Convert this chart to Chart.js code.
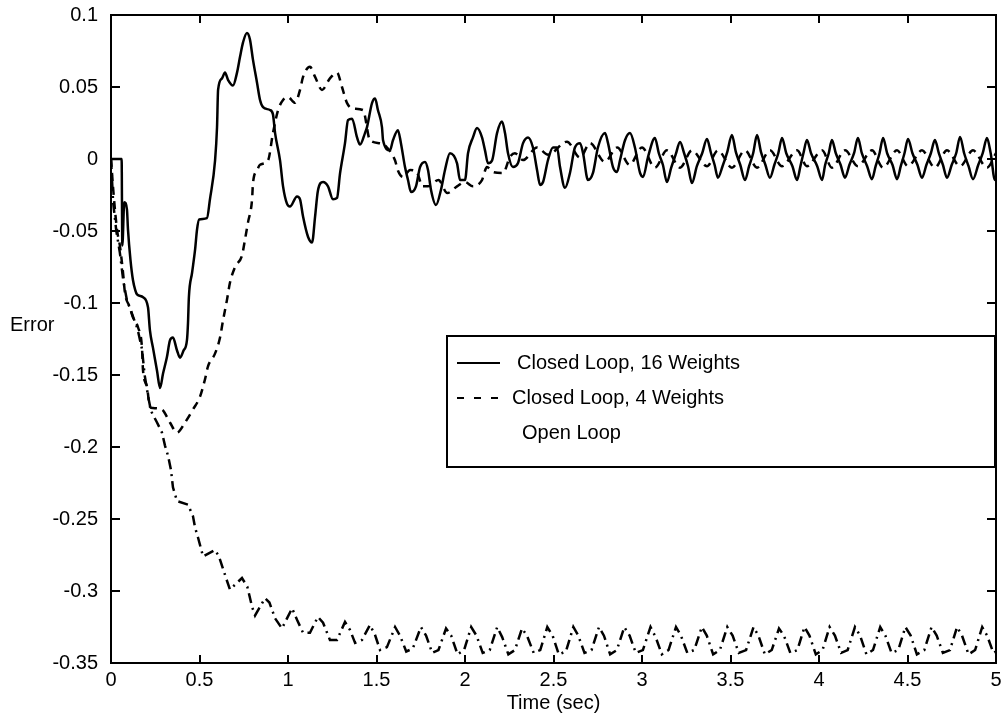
<!DOCTYPE html>
<html>
<head>
<meta charset="utf-8">
<script src="https://cdn.jsdelivr.net/npm/chart.js@4.4.1/dist/chart.umd.min.js"></script>
<style>
  html, body { margin: 0; padding: 0; background: #fff; }
  #wrap { width: 1006px; height: 723px; }
</style>
</head>
<body>
<div id="wrap"><canvas id="myChart" width="1006" height="723"></canvas></div>
<script>
// Closed Loop, 16 Weights (solid)
var t16 = [0, 0.06, 0.064, 0.075, 0.09, 0.096, 0.11, 0.124, 0.137, 0.147, 0.181, 0.209, 0.220, 0.237, 0.260, 0.277, 0.294, 0.316, 0.333, 0.350, 0.373, 0.390, 0.410, 0.429, 0.435, 0.440, 0.458, 0.475, 0.486, 0.498, 0.542, 0.559, 0.588, 0.599, 0.605, 0.627, 0.644, 0.661, 0.689, 0.712, 0.729, 0.746, 0.768, 0.785, 0.802, 0.825, 0.842, 0.859, 0.898, 0.915, 0.927, 0.955, 0.972, 0.994, 1.011, 1.051, 1.068, 1.085, 1.113, 1.136, 1.153, 1.169, 1.198, 1.226, 1.254, 1.277, 1.294, 1.322, 1.339, 1.362, 1.390, 1.407, 1.435, 1.446, 1.475, 1.492, 1.508, 1.531, 1.537, 1.576, 1.593, 1.621, 1.638, 1.661, 1.678, 1.695, 1.723, 1.746, 1.774, 1.791, 1.808, 1.836, 1.864, 1.887, 1.915, 1.955, 1.972, 2.0, 2.017, 2.045, 2.068, 2.096, 2.113, 2.130, 2.153, 2.181, 2.209, 2.226, 2.243, 2.271, 2.299, 2.328, 2.356, 2.384, 2.407, 2.424, 2.441, 2.469, 2.497, 2.520, 2.537, 2.565, 2.593, 2.621, 2.650, 2.667, 2.695, 2.723, 2.751, 2.791, 2.808, 2.836, 2.859, 2.876, 2.904, 2.932, 2.96, 2.989, 3.006, 3.034, 3.073, 3.095, 3.118, 3.141, 3.165, 3.190, 3.215, 3.238, 3.260, 3.282, 3.310, 3.340, 3.367, 3.390, 3.410, 3.429, 3.455, 3.482, 3.508, 3.530, 3.555, 3.582, 3.605, 3.628, 3.650, 3.672, 3.697, 3.723, 3.748, 3.770, 3.791, 3.815, 3.850, 3.876, 3.895, 3.912, 3.932, 3.955, 3.990, 4.017, 4.035, 4.055, 4.073, 4.095, 4.122, 4.147, 4.172, 4.198, 4.220, 4.242, 4.272, 4.299, 4.320, 4.342, 4.362, 4.385, 4.415, 4.441, 4.462, 4.483, 4.503, 4.528, 4.556, 4.582, 4.607, 4.632, 4.655, 4.677, 4.700, 4.723, 4.750, 4.775, 4.797, 4.820, 4.845, 4.870, 4.900, 4.925, 4.949, 4.970, 4.994, 5.0];
var e16 = [0, 0, -0.06, -0.03, -0.035, -0.049, -0.07, -0.084, -0.091, -0.094, -0.096, -0.103, -0.119, -0.131, -0.147, -0.159, -0.149, -0.1375, -0.126, -0.124, -0.133, -0.138, -0.133, -0.126, -0.114, -0.096, -0.079, -0.063, -0.049, -0.042, -0.041, -0.028, -0.001, 0.022, 0.048, 0.056, 0.060, 0.055, 0.051, 0.060, 0.071, 0.081, 0.0875, 0.083, 0.069, 0.053, 0.041, 0.036, 0.034, 0.031, 0.018, -0.001, -0.019, -0.031, -0.033, -0.026, -0.028, -0.040, -0.054, -0.058, -0.040, -0.022, -0.016, -0.019, -0.028, -0.027, -0.010, 0.011, 0.027, 0.028, 0.015, 0.010, 0.018, 0.022, 0.039, 0.042, 0.034, 0.022, 0.013, 0.006, 0.013, 0.020, 0.011, -0.0056, -0.0146, -0.023, -0.019, -0.0056, -0.002, -0.0076, -0.0215, -0.032, -0.0215, -0.0076, 0.004, -0.003, -0.0146, -0.0146, 0.004, 0.015, 0.0215, 0.015, 0.006, -0.003, -0.001, 0.018, 0.026, 0.018, 0.004, -0.0056, -0.003, 0.011, 0.015, 0.008, -0.0076, -0.018, -0.016, -0.0007, 0.008, 0.008, -0.0056, -0.020, -0.0097, 0.008, 0.011, 0.004, -0.0146, -0.0097, 0.008, 0.018, 0.011, -0.0056, -0.009, -0.0007, 0.013, 0.018, 0.008, -0.0097, -0.0125, 0.0014, 0.0146, 0.004, -0.004, -0.016, -0.006, 0.003, 0.0118, 0.004, -0.005, -0.0167, -0.005, 0.004, 0.0139, 0.004, -0.004, -0.013, -0.005, 0.005, 0.0167, 0.005, -0.004, -0.0146, -0.005, 0.004, 0.0167, 0.005, -0.004, -0.013, -0.004, 0.004, 0.0146, 0.004, -0.005, -0.0146, -0.005, 0.004, 0.0132, 0.004, -0.005, -0.0146, -0.004, 0.004, 0.0132, 0.004, -0.004, -0.013, -0.004, 0.004, 0.0146, 0.004, -0.005, -0.014, -0.005, 0.004, 0.0146, 0.004, -0.004, -0.014, -0.005, 0.004, 0.0139, 0.004, -0.004, -0.013, -0.004, 0.004, 0.0132, 0.004, -0.004, -0.013, -0.004, 0.004, 0.0153, 0.004, -0.005, -0.014, -0.004, 0.004, 0.0146, 0.004, -0.0146, -0.012];

// Closed Loop, 4 Weights (dashed)
var t4 = [0, 0.015, 0.035, 0.050, 0.068, 0.079, 0.107, 0.124, 0.153, 0.175, 0.181, 0.203, 0.220, 0.237, 0.288, 0.333, 0.373, 0.418, 0.463, 0.503, 0.531, 0.548, 0.588, 0.616, 0.633, 0.655, 0.672, 0.701, 0.740, 0.757, 0.774, 0.797, 0.802, 0.825, 0.842, 0.887, 0.915, 0.944, 0.972, 1.000, 1.040, 1.068, 1.085, 1.124, 1.153, 1.192, 1.237, 1.277, 1.305, 1.333, 1.367, 1.424, 1.463, 1.520, 1.559, 1.605, 1.621, 1.65, 1.69, 1.73, 1.76, 1.79, 1.85, 1.90, 1.955, 2.0, 2.045, 2.096, 2.124, 2.158, 2.215, 2.254, 2.282, 2.328, 2.407, 2.47, 2.576, 2.65, 2.706, 2.79, 2.86, 2.93, 3.0, 3.073, 3.141, 3.215, 3.282, 3.367, 3.429, 3.508, 3.582, 3.650, 3.723, 3.791, 3.876, 3.932, 4.017, 4.073, 4.147, 4.220, 4.299, 4.362, 4.441, 4.503, 4.582, 4.655, 4.723, 4.797, 4.870, 4.949, 5.0];
var e4 = [0, -0.025, -0.05, -0.06, -0.079, -0.093, -0.103, -0.110, -0.117, -0.131, -0.147, -0.158, -0.172, -0.173, -0.174, -0.183, -0.190, -0.183, -0.174, -0.165, -0.153, -0.144, -0.135, -0.124, -0.112, -0.098, -0.086, -0.075, -0.067, -0.056, -0.044, -0.028, -0.017, -0.008, -0.004, -0.001, 0.018, 0.034, 0.041, 0.043, 0.039, 0.048, 0.057, 0.064, 0.057, 0.048, 0.056, 0.060, 0.050, 0.039, 0.035, 0.034, 0.013, 0.011, 0.008, -0.001, -0.008, -0.0125, -0.0076, -0.0097, -0.019, -0.019, -0.0146, -0.0236, -0.019, -0.016, -0.019, -0.0146, -0.0056, -0.009, -0.0097, 0.0014, 0.004, -0.0007, 0.008, 0.003, 0.012, 0.001, 0.011, -0.002, 0.008, -0.004, 0.008, -0.006, 0.006, -0.006, 0.006, -0.005, 0.006, -0.006, 0.006, -0.006, 0.006, -0.005, 0.006, -0.005, 0.006, -0.006, 0.006, -0.005, 0.006, -0.006, 0.006, -0.005, 0.006, -0.006, 0.006, -0.005, 0.006, -0.006, 0.004];

// Open Loop (dash-dot)
var tOpen = [0, 0.012, 0.03, 0.05, 0.07, 0.09, 0.12, 0.15, 0.175, 0.19, 0.21, 0.226, 0.26, 0.288, 0.305, 0.322, 0.339, 0.350, 0.373, 0.435, 0.463, 0.475, 0.492, 0.520, 0.588, 0.610, 0.650, 0.672, 0.740, 0.77, 0.797, 0.814, 0.870, 0.895, 0.927, 0.966, 1.023, 1.051, 1.085, 1.124, 1.169, 1.198, 1.237, 1.277, 1.322, 1.350, 1.379, 1.418, 1.463, 1.492, 1.520, 1.559, 1.605, 1.633, 1.668, 1.705, 1.751, 1.780, 1.815, 1.850, 1.893, 1.922, 1.958, 1.995, 2.035, 2.065, 2.100, 2.140, 2.182, 2.210, 2.245, 2.282, 2.322, 2.350, 2.388, 2.425, 2.465, 2.495, 2.530, 2.570, 2.612, 2.640, 2.675, 2.715, 2.757, 2.785, 2.820, 2.858, 2.900, 2.930, 2.965, 3.005, 3.048, 3.077, 3.112, 3.150, 3.192, 3.220, 3.256, 3.295, 3.338, 3.366, 3.402, 3.440, 3.482, 3.512, 3.547, 3.588, 3.630, 3.658, 3.694, 3.733, 3.774, 3.802, 3.838, 3.878, 3.918, 3.946, 3.982, 4.020, 4.060, 4.090, 4.125, 4.162, 4.203, 4.232, 4.268, 4.305, 4.346, 4.375, 4.410, 4.448, 4.488, 4.518, 4.553, 4.595, 4.636, 4.665, 4.700, 4.740, 4.780, 4.808, 4.845, 4.882, 4.922, 4.950, 4.985, 5.0];
var eOpen = [0, -0.03, -0.05, -0.065, -0.085, -0.098, -0.108, -0.118, -0.132, -0.150, -0.165, -0.175, -0.183, -0.190, -0.199, -0.206, -0.216, -0.228, -0.2375, -0.240, -0.248, -0.256, -0.263, -0.276, -0.2715, -0.276, -0.291, -0.299, -0.291, -0.297, -0.311, -0.317, -0.305, -0.308, -0.319, -0.326, -0.312, -0.320, -0.329, -0.329, -0.318, -0.322, -0.334, -0.334, -0.3215, -0.327, -0.336, -0.334, -0.3236, -0.3306, -0.341, -0.339, -0.325, -0.331, -0.342, -0.340, -0.325, -0.331, -0.343, -0.341, -0.326, -0.331, -0.344, -0.341, -0.325, -0.331, -0.343, -0.341, -0.325, -0.332, -0.344, -0.341, -0.326, -0.331, -0.343, -0.341, -0.325, -0.331, -0.344, -0.342, -0.325, -0.331, -0.343, -0.341, -0.325, -0.331, -0.344, -0.341, -0.325, -0.331, -0.343, -0.341, -0.325, -0.332, -0.344, -0.341, -0.325, -0.331, -0.343, -0.341, -0.325, -0.331, -0.344, -0.341, -0.325, -0.331, -0.343, -0.341, -0.325, -0.331, -0.344, -0.341, -0.326, -0.331, -0.343, -0.341, -0.325, -0.331, -0.344, -0.341, -0.325, -0.331, -0.343, -0.341, -0.325, -0.331, -0.344, -0.341, -0.325, -0.331, -0.343, -0.341, -0.325, -0.331, -0.344, -0.341, -0.325, -0.331, -0.343, -0.341, -0.325, -0.331, -0.344, -0.341, -0.325, -0.331, -0.343, -0.342];

var seriesNames = ['Closed Loop, 16 Weights', 'Closed Loop, 4 Weights', 'Open Loop'];
var xTicks = [0, 0.5, 1, 1.5, 2, 2.5, 3, 3.5, 4, 4.5, 5];
var yTicks = [-0.35, -0.3, -0.25, -0.2, -0.15, -0.1, -0.05, 0, 0.05, 0.1];

function pts(ts, es) {
  var out = [];
  for (let i = 0; i < ts.length; i++) out.push({x: ts[i], y: es[i]});
  return out;
}

var FONT = "'Liberation Sans', Arial, sans-serif";

// box + inward ticks on all four sides, legend, y label
const framePlugin = {
  id: 'frame',
  afterDatasetsDraw(chart) {
    const ctx = chart.ctx;
    const a = chart.chartArea;
    const xs = chart.scales.x, ys = chart.scales.y;
    ctx.save();
    ctx.strokeStyle = '#000';
    ctx.lineWidth = 2;
    ctx.setLineDash([]);
    ctx.strokeRect(a.left, a.top, a.right - a.left, a.bottom - a.top);
    ctx.beginPath();
    xTicks.forEach(function(v){
      const px = Math.round(xs.getPixelForValue(v));
      ctx.moveTo(px, a.bottom); ctx.lineTo(px, a.bottom - 8);
      ctx.moveTo(px, a.top); ctx.lineTo(px, a.top + 8);
    });
    yTicks.forEach(function(v){
      const py = Math.round(ys.getPixelForValue(v));
      ctx.moveTo(a.left, py); ctx.lineTo(a.left + 9, py);
      ctx.moveTo(a.right, py); ctx.lineTo(a.right - 9, py);
    });
    ctx.stroke();

    // legend
    const L = a.left + 336, T = a.top + 321, R = a.right - 1, B = a.top + 452;
    ctx.fillStyle = '#fff';
    ctx.fillRect(L, T, R - L, B - T);
    ctx.lineWidth = 2;
    ctx.strokeRect(L, T, R - L, B - T);
    const rows = [T + 27, T + 62, T + 97];
    const textX = [L + 70, L + 65, L + 75];
    ctx.font = '20px ' + FONT;
    ctx.textBaseline = 'middle';
    ctx.textAlign = 'left';
    ctx.fillStyle = '#000';
    chart.data.datasets.forEach(function(ds, i){
      if (ds.legendSample) {
        ctx.beginPath();
        ctx.setLineDash(ds.legendDash);
        ctx.lineWidth = 2;
        ctx.moveTo(L + 10, rows[i]); ctx.lineTo(L + 53, rows[i]);
        ctx.stroke();
      }
      ctx.setLineDash([]);
      ctx.fillText(ds.label, textX[i], rows[i]);
    });

    // y axis label, horizontal
    ctx.fillText('Error', 10, 325);
    ctx.restore();
  }
};

const data = {
  datasets: [
    {
      label: seriesNames[0],
      data: pts(t16, e16),
      borderColor: '#000',
      borderWidth: 2.5,
      cubicInterpolationMode: 'monotone',
      legendSample: true,
      legendDash: []
    },
    {
      label: seriesNames[1],
      data: pts(t4, e4),
      borderColor: '#000',
      borderWidth: 2.5,
      borderDash: [8, 6],
      cubicInterpolationMode: 'monotone',
      legendSample: true,
      legendDash: [7, 10]
    },
    {
      label: seriesNames[2],
      data: pts(tOpen, eOpen),
      borderColor: '#000',
      borderWidth: 2.5,
      borderDash: [10, 5, 2, 5],
      legendSample: false,
      legendDash: [10, 5, 2, 5]
    }
  ]
};

const config = {
  type: 'line',
  data: data,
  options: {
    responsive: false,
    animation: false,
    devicePixelRatio: 1,
    parsing: false,
    elements: { point: { radius: 0 }, line: { tension: 0 } },
    layout: { autoPadding: false, padding: { left: 0, right: 10, top: 15, bottom: 0 } },
    plugins: { legend: { display: false }, tooltip: { enabled: false } },
    scales: {
      x: {
        type: 'linear',
        min: 0, max: 5,
        grid: { display: false, drawTicks: false },
        border: { display: false },
        afterFit: function(s){ s.height = 60; s.paddingLeft = 0; s.paddingRight = 0; },
        afterBuildTicks: function(s){ s.ticks = xTicks.map(function(v){ return {value: v}; }); },
        ticks: {
          color: '#000',
          padding: 5,
          maxRotation: 0,
          font: { family: FONT, size: 20 },
          callback: function(v){ return String(+v.toFixed(2)); }
        },
        title: {
          display: true,
          text: 'Time (sec)',
          color: '#000',
          font: { family: FONT, size: 20 },
          padding: { top: 0, bottom: 8 }
        }
      },
      y: {
        type: 'linear',
        min: -0.35, max: 0.1,
        grid: { display: false, drawTicks: false },
        border: { display: false },
        afterFit: function(s){ s.width = 111; s.paddingTop = 0; s.paddingBottom = 0; },
        afterBuildTicks: function(s){ s.ticks = yTicks.map(function(v){ return {value: v}; }); },
        ticks: {
          color: '#000',
          padding: 13,
          font: { family: FONT, size: 20 },
          callback: function(v){ return String(+v.toFixed(2)); }
        }
      }
    }
  },
  plugins: [framePlugin]
};

const myChart = new Chart(document.getElementById('myChart'), config);
</script>
</body>
</html>
